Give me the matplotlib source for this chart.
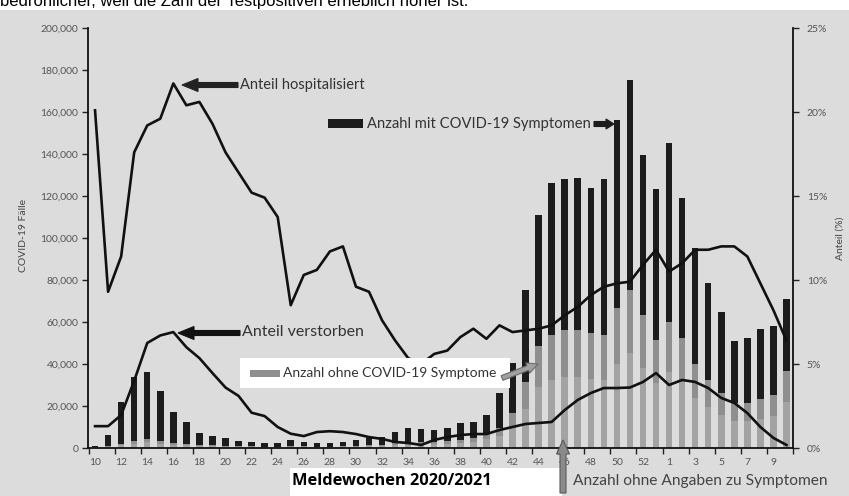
import numpy as np
import matplotlib
matplotlib.use('Agg')
import matplotlib.pyplot as plt
from matplotlib.patches import Rectangle, FancyArrow
from matplotlib.transforms import IdentityTransform

# Meldewochen 2020 (10-53) und 2021 (1-10)
weeks = list(range(10, 54)) + list(range(1, 11))

# Anzahl mit COVID-19 Symptomen
mit_symptomen = [700, 5400, 20000, 30500, 31500, 23500, 14500, 10400, 5600, 4600,
                 3800, 2600, 2200, 1700, 1700, 3100, 2200, 1700, 1700, 2100,
                 2800, 3700, 3600, 5400, 6800, 6300, 5800, 6300, 7900, 7600,
                 8600, 16700, 23800, 43800, 62400, 72400, 71800, 72400, 69000, 74200,
                 89500, 99800, 76200, 71900, 85200, 66600, 55200, 46200, 38600, 29600,
                 31000, 33400, 32900, 34300]
# Anzahl ohne COVID-19 Symptome
ohne_symptome = [100, 300, 800, 1400, 1800, 1400, 1000, 800, 600, 500,
                 400, 300, 300, 300, 300, 400, 300, 300, 300, 300,
                 400, 500, 600, 900, 1100, 1100, 1100, 1300, 1600, 2000,
                 2800, 3800, 6700, 12600, 19400, 21500, 22500, 22500, 21900, 21500,
                 26700, 30100, 25300, 20600, 24000, 21000, 16000, 13000, 10500, 8600,
                 8600, 9300, 10100, 14700]
# Anzahl ohne Angaben zu Symptomen
ohne_angaben = [200, 500, 1200, 2100, 2700, 2100, 1500, 1200, 900, 800,
                600, 500, 500, 400, 400, 500, 500, 400, 400, 500,
                600, 800, 1000, 1300, 1600, 1600, 1700, 1900, 2400, 3000,
                4300, 5700, 10000, 18800, 29200, 32300, 33700, 33700, 32900, 32300,
                40000, 45100, 38000, 30800, 36000, 31400, 24000, 19400, 15700, 12800,
                12800, 14000, 15100, 22000]

# Anteile in %
anteil_hospitalisiert = [20.1, 9.3, 11.4, 17.6, 19.2, 19.6, 21.7, 20.4, 20.6, 19.3,
                         17.6, 16.4, 15.2, 14.9, 13.75, 8.5, 10.3, 10.6, 11.7, 12.0,
                         9.6, 9.3, 7.6, 6.4, 5.35, 5.0, 5.6, 5.8, 6.6, 7.1,
                         6.5, 7.3, 6.9, 7.0, 7.1, 7.3, 7.9, 8.4, 9.1, 9.6,
                         9.8, 9.9, 10.9, 11.8, 10.5, 11.0, 11.8, 11.8, 12.0, 12.0,
                         11.4, 9.8, 8.2, 6.4]
anteil_verstorben = [1.3, 1.3, 1.96, 4.0, 6.25, 6.7, 6.9, 6.0, 5.35, 4.46,
                     3.6, 3.1, 2.1, 1.9, 1.25, 0.85, 0.71, 0.95, 1.0, 0.95,
                     0.83, 0.65, 0.54, 0.36, 0.3, 0.18, 0.48, 0.65, 0.77, 0.83,
                     0.83, 1.07, 1.25, 1.43, 1.49, 1.55, 2.26, 2.86, 3.27, 3.57,
                     3.57, 3.6, 3.93, 4.46, 3.75, 4.05, 3.93, 3.57, 2.98, 2.68,
                     2.08, 1.25, 0.6, 0.18]

W, H = 849, 496
BG = '#dcdcdc'
tick_font = ['Liberation Sans Narrow', 'Lato', 'DejaVu Sans']
note_font = ['Lato', 'DejaVu Sans']

fig = plt.figure(figsize=(W / 100, H / 100), dpi=100)
fig.patch.set_facecolor('white')
fig.add_artist(Rectangle((0, 0), 1, 1 - 10 / H, transform=fig.transFigure,
                         facecolor=BG, edgecolor='none', zorder=-1))

# abgeschnittene Textzeile oben (wie im Original)
fig.text(0.0, 1 - 6 / H, 'bedrohlicher, weil die Zahl der Testpositiven erheblich höher ist.',
         fontsize=12, family='Liberation Sans', va='baseline', ha='left', color='black')

ax = fig.add_axes([88 / W, 48 / H, 705 / W, 420 / H])
ax.patch.set_alpha(0)
x = np.arange(len(weeks))
bw = 0.5
b1 = np.array(ohne_angaben)
b2 = b1 + np.array(ohne_symptome)
ax.bar(x, ohne_angaben, width=bw, color='#a3a3a3', zorder=2)
ax.bar(x, ohne_symptome, width=bw, bottom=b1, color='#8f8f8f', zorder=2)
ax.bar(x, mit_symptomen, width=bw, bottom=b2, color='#1c1c1c', zorder=2)

ax.set_xlim(-0.54, 53.45)
ax.set_ylim(0, 200000)
ax.set_yticks(range(0, 200001, 20000))
ax.set_yticklabels([f'{v:,}' for v in range(0, 200001, 20000)])
ax.set_xticks(np.arange(-0.5, 54, 2))
ax.set_xticklabels([])
ax.set_xticks(np.arange(0, 54, 2), [str(weeks[i]) for i in range(0, 54, 2)], minor=True)
ax.tick_params(axis='x', which='major', length=4, width=1, direction='out', color='#222')
ax.tick_params(axis='x', which='minor', length=0, pad=7, labelsize=7.5, labelcolor='#555')
ax.tick_params(axis='y', length=4, width=1, direction='out', color='#222', pad=3,
               labelsize=7.5, labelcolor='#555')
for lab in ax.get_xticklabels(minor=True) + ax.get_yticklabels():
    lab.set_family(tick_font)
ax.spines['top'].set_visible(False)
ax.spines['right'].set_visible(False)
for s in ['left', 'bottom']:
    ax.spines[s].set_linewidth(1.3)
    ax.spines[s].set_color('#111')
ax.set_ylabel('COVID-19 Fälle', fontsize=7.5, color='#444', family=tick_font, labelpad=10)
ax.yaxis.set_label_coords(-60 / 705, 0.505)

ax2 = ax.twinx()
ax2.plot(x, anteil_hospitalisiert, color='#111', lw=1.9, zorder=3)
ax2.plot(x, anteil_verstorben, color='#111', lw=1.9, zorder=3)
ax2.set_ylim(0, 25)
ax2.set_yticks(range(0, 26, 5))
ax2.set_yticklabels([f'{v}%' for v in range(0, 26, 5)])
ax2.tick_params(axis='y', length=4, width=1, direction='out', color='#222', pad=6,
                labelsize=7.5, labelcolor='#555')
for lab in ax2.get_yticklabels():
    lab.set_family(tick_font)
ax2.spines['top'].set_visible(False)
ax2.spines['left'].set_visible(False)
ax2.spines['bottom'].set_visible(False)
ax2.spines['right'].set_linewidth(1.3)
ax2.spines['right'].set_color('#111')
ax2.set_ylabel('Anteil (%)', fontsize=7.5, color='#444', family=tick_font)
ax2.yaxis.set_label_coords(1 + 43 / 705, 0.5)


def px(xp, yp):
    return xp / W, 1 - yp / H


def arrow(x0, y0, x1, y1, width, hw, hl, fc, ec=None):
    # Pfeil in Bildpunkten (y von oben)
    a = FancyArrow(x0, H - y0, x1 - x0, -(y1 - y0), width=width, head_width=hw,
                   head_length=hl, length_includes_head=True, transform=IdentityTransform(),
                   facecolor=fc, edgecolor=ec if ec else fc, linewidth=0.8, zorder=5)
    fig.add_artist(a)


def note(xp, yp, s, size=9.5, color='#333', weight='normal', family=note_font):
    fig.text(*px(xp, yp), s, fontsize=size, color=color, weight=weight, family=family,
             ha='left', va='center', zorder=6)


# Anteil hospitalisiert
arrow(238, 85, 182, 85, 5, 13, 16, '#222')
note(240, 85, 'Anteil hospitalisiert', size=10.5)

# Anteil verstorben
arrow(240, 333, 178, 333, 5, 13, 16, '#111')
note(242, 332, 'Anteil verstorben', size=11.5)

# Anzahl mit COVID-19 Symptomen
fig.add_artist(Rectangle(px(328, 128), 35 / W, 9 / H, transform=fig.transFigure,
                         facecolor='#1c1c1c', edgecolor='none', zorder=5))
note(367, 124, 'Anzahl mit COVID-19 Symptomen', size=10.6)
arrow(594, 124, 614, 124, 5, 10, 8, '#1c1c1c')

# Anzahl ohne COVID-19 Symptome
fig.add_artist(Rectangle(px(240, 388), 270 / W, 30 / H, transform=fig.transFigure,
                         facecolor='white', edgecolor='none', zorder=4))
fig.add_artist(Rectangle(px(250, 377), 30 / W, 7 / H, transform=fig.transFigure,
                         facecolor='#8f8f8f', edgecolor='none', zorder=5))
note(283, 373, 'Anzahl ohne COVID-19 Symptome', size=10)
arrow(502, 378, 538, 364, 5, 11, 11, '#a0a0a0', '#6a6a6a')

# Meldewochen
fig.add_artist(Rectangle(px(290, 496), 272 / W, 28 / H, transform=fig.transFigure,
                         facecolor='white', edgecolor='none', zorder=4))
note(292, 481, 'Meldewochen 2020/2021', size=11.8, color='black', weight='bold',
     family=['Open Sans', 'DejaVu Sans'])

# Anzahl ohne Angaben zu Symptomen
arrow(563, 493, 563, 440, 6, 13, 14, '#8a8a8a', '#5a5a5a')
note(573, 481, 'Anzahl ohne Angaben zu Symptomen', size=11.2, color='#444')

fig.savefig('out.png', dpi=100, facecolor=fig.get_facecolor())
